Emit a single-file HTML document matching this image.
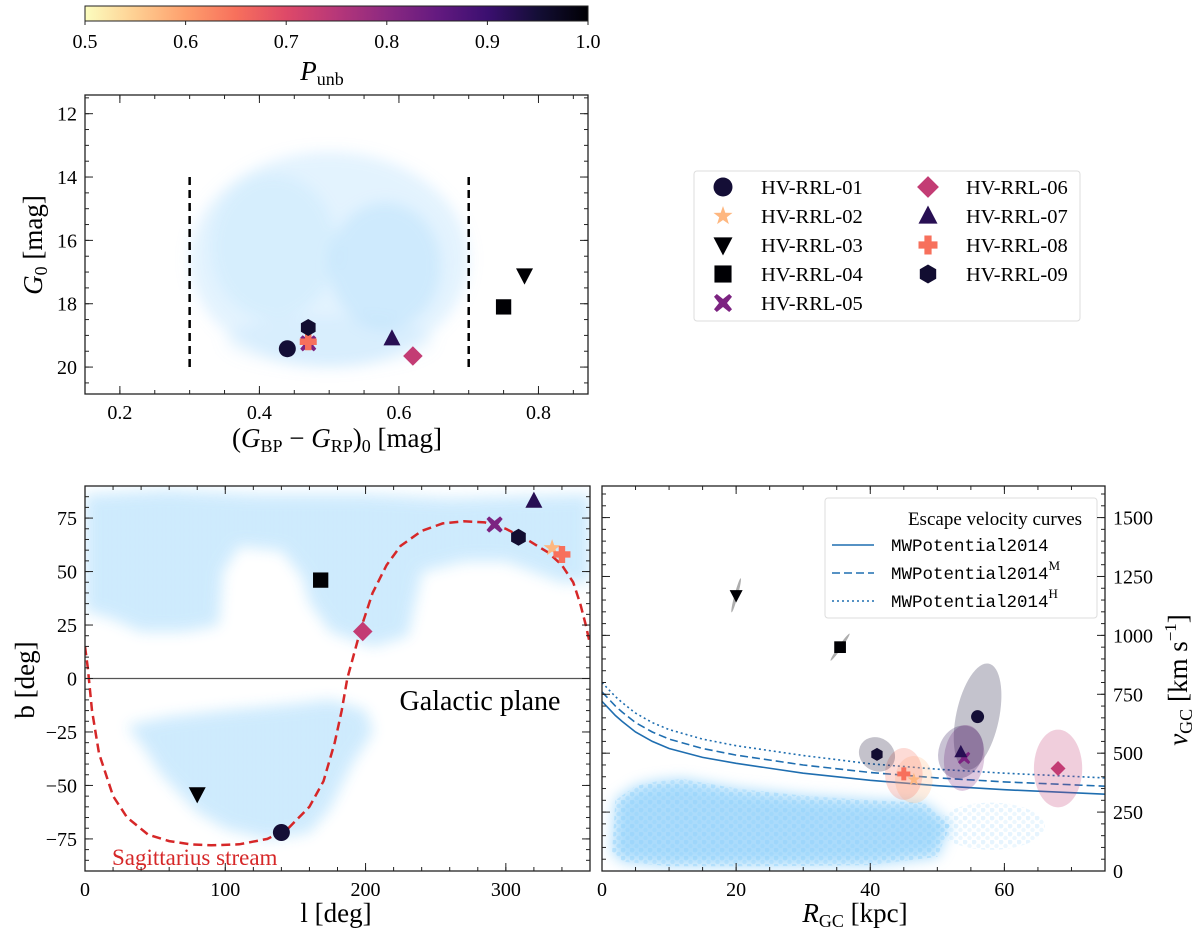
<!DOCTYPE html>
<html><head><meta charset="utf-8">
<style>
html,body{margin:0;padding:0;background:#fff;}
svg{display:block;font-family:"Liberation Serif",serif;}
</style></head>
<body>
<svg id="fig" width="1200" height="938" viewBox="0 0 1200 938" xmlns="http://www.w3.org/2000/svg">
<defs>
<linearGradient id="magmaR" x1="0" x2="1" y1="0" y2="0">
<stop offset="0" stop-color="#fcfdbf"/><stop offset="0.1" stop-color="#fecf92"/><stop offset="0.2" stop-color="#fe9f6d"/><stop offset="0.3" stop-color="#f7705c"/><stop offset="0.4" stop-color="#de4968"/><stop offset="0.5" stop-color="#b73779"/><stop offset="0.6" stop-color="#8c2981"/><stop offset="0.7" stop-color="#641a80"/><stop offset="0.8" stop-color="#3b0f70"/><stop offset="0.9" stop-color="#140e36"/><stop offset="1" stop-color="#000004"/>
</linearGradient>
<filter id="blur" x="-20%" y="-20%" width="140%" height="140%"><feGaussianBlur stdDeviation="7"/></filter>
<pattern id="dots" width="9" height="8" patternUnits="userSpaceOnUse"><circle cx="2" cy="2" r="2.4" fill="#8fd0fa" opacity="0.45"/><circle cx="6.5" cy="6" r="2.2" fill="#8fd0fa" opacity="0.35"/></pattern>
<clipPath id="c1"><rect x="85" y="95" width="503" height="299"/></clipPath>
<clipPath id="c2"><rect x="85" y="486" width="505" height="385"/></clipPath>
<clipPath id="c3"><rect x="602" y="486" width="503" height="385"/></clipPath>
</defs>
</svg>
<script>
// ---------- data ----------
const starNames = ["HV-RRL-01","HV-RRL-02","HV-RRL-03","HV-RRL-04","HV-RRL-05","HV-RRL-06","HV-RRL-07","HV-RRL-08","HV-RRL-09"];
const starMarkers = ["circle","star","tridown","square","x","diamond","triup","plus","hexagon"];
const pUnb = [0.95,0.575,1.0,1.0,0.82,0.735,0.925,0.65,0.955];
const bpRp = [0.44,0.47,0.78,0.75,0.47,0.62,0.59,0.47,0.47];
const g0 = [19.42,19.2,17.1,18.1,19.25,19.65,19.1,19.2,18.75];
const glon = [140,333,80,168,292,198,320,340,309];
const glat = [-72,61,-54,46,72,22,83,58,66];
const rgc = [56,46.5,20,35.5,54,68,53.5,45,41];
const vgc = [655,388,1170,950,480,435,505,412,495];
const errR = [3.2,2.8,0.25,0.25,3.0,3.6,3.3,2.8,2.8];
const errV = [230,100,75,70,140,165,115,110,70];
const errRot = [12,0,15,35,5,0,20,0,35];
const colorCut = [0.3,0.7];
const sgrL = [0,2,5,10,20,30,45,60,75,90,110,130,145,160,170,178,183,187,192,197,205,215,225,240,255,270,285,300,315,330,340,348,353,357,360];
const sgrB = [15,5,-15,-35,-55,-65,-73,-76,-77.5,-78,-77.5,-75,-70,-60,-48,-30,-15,0,12,24,40,53,62,69,72.5,73.5,73,70,65,59,53,45,35,25,16];
const escR = [0,1,2,3,5,7.5,10,15,20,30,40,50,60,75];
const escSolid = [720,690,660,635,590,550,520,482,457,415,385,362,345,326];
const escDashed = [760,730,700,675,630,590,560,520,492,450,418,395,378,360];
const escDotted = [800,770,740,715,670,630,600,560,532,490,455,432,415,395];
const cbTicks = [0.5,0.6,0.7,0.8,0.9,1.0];

const NS="http://www.w3.org/2000/svg";
const svg=document.getElementById('fig');
const TICKFS=20;
function el(tag,attrs,parent){const e=document.createElementNS(NS,tag);for(const k in attrs)e.setAttribute(k,attrs[k]);(parent||svg).appendChild(e);return e;}
function lin(d0,d1,p0,p1){return v=>p0+(v-d0)*(p1-p0)/(d1-d0);}

const magma=[[252,253,191],[254,207,146],[254,159,109],[247,112,92],[222,73,104],[183,55,121],[140,41,129],[100,26,128],[59,15,112],[20,14,54],[0,0,4]];
function pColor(p){let t=(p-0.5)/0.5;t=Math.max(0,Math.min(1,t))*10;const i=Math.min(9,Math.floor(t)),f=t-i;const a=magma[i],b=magma[i+1];return 'rgb('+a.map((v,k)=>Math.round(v+(b[k]-v)*f)).join(',')+')';}

function marker(parent,type,x,y,s,color){
  const r=s/2;let e;
  if(type==="circle") e=el('circle',{cx:x,cy:y,r:r},parent);
  else if(type==="square") e=el('rect',{x:x-r*0.9,y:y-r*0.9,width:r*1.8,height:r*1.8},parent);
  else if(type==="diamond") e=el('polygon',{points:`${x},${y-r*1.15} ${x+r*1.15},${y} ${x},${y+r*1.15} ${x-r*1.15},${y}`},parent);
  else if(type==="triup") e=el('polygon',{points:`${x},${y-r*1.1} ${x+r},${y+r*0.8} ${x-r},${y+r*0.8}`},parent);
  else if(type==="tridown") e=el('polygon',{points:`${x},${y+r*1.1} ${x+r},${y-r*0.8} ${x-r},${y-r*0.8}`},parent);
  else if(type==="hexagon"){let p=[];for(let i=0;i<6;i++){const a=Math.PI/2+i*Math.PI/3;p.push((x+r*Math.cos(a)).toFixed(1)+','+(y-r*Math.sin(a)).toFixed(1));}e=el('polygon',{points:p.join(' ')},parent);}
  else if(type==="star"){let p=[];for(let i=0;i<10;i++){const a=Math.PI/2+i*Math.PI/5;const rr=i%2?r*0.42:r*1.05;p.push((x+rr*Math.cos(a)).toFixed(1)+','+(y-rr*Math.sin(a)).toFixed(1));}e=el('polygon',{points:p.join(' ')},parent);}
  else if(type==="plus"){const w=r*0.38;e=el('polygon',{points:`${x-w},${y-r} ${x+w},${y-r} ${x+w},${y-w} ${x+r},${y-w} ${x+r},${y+w} ${x+w},${y+w} ${x+w},${y+r} ${x-w},${y+r} ${x-w},${y+w} ${x-r},${y+w} ${x-r},${y-w} ${x-w},${y-w}`},parent);}
  else if(type==="x"){const w=r*0.3,o=r*0.95;const pts=[[0,-w*1.4],[o-w,-o],[o,-o+w],[w*1.4,0],[o,o-w],[o-w,o],[0,w*1.4],[-o+w,o],[-o,o-w],[-w*1.4,0],[-o,-o+w],[-o+w,-o]];e=el('polygon',{points:pts.map(q=>(x+q[0]).toFixed(1)+','+(y+q[1]).toFixed(1)).join(' ')},parent);}
  e.setAttribute('fill',color);
  return e;
}

function text(parent,x,y,str,attrs){const t=el('text',Object.assign({x:x,y:y,'font-size':TICKFS,fill:'#000'},attrs||{}),parent);t.textContent=str;return t;}

function axes(name,box,xs,ys,xr,yr,xMaj,xMin,yMaj,yMin,xFmt,yFmt,yRight){
  const g=el('g',{});
  
  
  const [x0,y0,x1,y1]=box;
  function tk(v0,v1,step,len,isX){
    for(let v=Math.ceil(v0/step-1e-9)*step;v<=v1+1e-9;v+=step){
      if(isX){const px=xs(v);el('line',{x1:px,y1:y1,x2:px,y2:y1-len,stroke:'#222','stroke-width':1},g);el('line',{x1:px,y1:y0,x2:px,y2:y0+len,stroke:'#222','stroke-width':1},g);}
      else{const py=ys(v);el('line',{x1:x0,y1:py,x2:x0+len,y2:py,stroke:'#222','stroke-width':1},g);el('line',{x1:x1,y1:py,x2:x1-len,y2:py,stroke:'#222','stroke-width':1},g);}
    }
  }
  tk(xr[0],xr[1],xMin,4,true);tk(xr[0],xr[1],xMaj,8,true);
  tk(yr[0],yr[1],yMin,4,false);tk(yr[0],yr[1],yMaj,8,false);
  for(let v=Math.ceil(xr[0]/xMaj-1e-9)*xMaj;v<=xr[1]+1e-9;v+=xMaj){
    const t=text(g,xs(v),y1+25,xFmt(v),{'text-anchor':'middle'});
    
    
  }
  for(let v=Math.ceil(yr[0]/yMaj-1e-9)*yMaj;v<=yr[1]+1e-9;v+=yMaj){
    const t=yRight?text(g,x1+8,ys(v)+7,yFmt(v),{'text-anchor':'start'}):text(g,x0-8,ys(v)+7,yFmt(v),{'text-anchor':'end'});
    
    
  }
  const fr=el('rect',{x:x0,y:y0,width:x1-x0,height:y1-y0,fill:'none',stroke:'#222','stroke-width':1.3},g);
  
  
  return g;
}
const minus=v=>(v<0?'\u2212':'')+Math.abs(v);

// ---------- colorbar ----------
const cbx=lin(0.5,1.0,85,588);
const cb=el('rect',{x:85,y:6,width:503,height:15,fill:'url(#magmaR)',stroke:'#222','stroke-width':1});


cbTicks.forEach(v=>{el('line',{x1:cbx(v),y1:21,x2:cbx(v),y2:25,stroke:'#222'});const t=text(svg,cbx(v),48,v.toFixed(1),{'text-anchor':'middle'});});
const cbl=el('text',{x:322,y:80,'font-size':27,'font-style':'italic','text-anchor':'middle'});
cbl.innerHTML='P<tspan font-size="18" font-style="normal" dy="5">unb</tspan>';



// ---------- panel 1: CMD ----------
const x1s=lin(0.15,0.871,85,588), y1s=lin(11.41,20.85,95,394);
const p1=el('g',{'clip-path':'url(#c1)'});


const cloud1=el('g',{filter:'url(#blur)'},p1);


[[0.5,16.6,0.2,3.4,0.25],[0.58,16.8,0.08,2.0,0.25],[0.42,16.2,0.09,2.3,0.15],[0.5,19.2,0.15,0.8,0.12]].forEach(e=>{
  el('ellipse',{cx:x1s(e[0]),cy:y1s(e[1]),rx:x1s(e[0]+e[2])-x1s(e[0]),ry:y1s(e[1]+e[3])-y1s(e[1]),fill:'#8fd0fa',opacity:e[4]},cloud1);
});
colorCut.forEach(c=>{const l=el('line',{x1:x1s(c),y1:y1s(14),x2:x1s(c),y2:y1s(20),stroke:'#000','stroke-width':2.5,'stroke-dasharray':'8,5'},p1);});
starNames.forEach((n,i)=>{const m=marker(p1,starMarkers[i],x1s(bpRp[i]),y1s(g0[i]),17,pColor(pUnb[i]));});
axes('cmd',[85,95,588,394],x1s,y1s,[0.15,0.871],[11.41,20.85],0.2,0.05,2,0.5,v=>v.toFixed(1),v=>v.toFixed(0),false);
let t=el('text',{x:337,y:447,'font-size':27,'text-anchor':'middle'});
t.innerHTML='(<tspan font-style="italic">G</tspan><tspan font-size="18" dy="5">BP</tspan><tspan dy="-5"> \u2212 </tspan><tspan font-style="italic">G</tspan><tspan font-size="18" dy="5">RP</tspan><tspan dy="-5">)</tspan><tspan font-size="18" dy="5">0</tspan><tspan dy="-5"> [mag]</tspan>';

t=el('text',{x:0,y:0,'font-size':27,'text-anchor':'middle',transform:'translate(42,245) rotate(-90)'});
t.innerHTML='<tspan font-style="italic">G</tspan><tspan font-size="18" dy="5">0</tspan><tspan dy="-5"> [mag]</tspan>';


// ---------- legend (stars) ----------
const lg=el('g',{});


el('rect',{x:694,y:171,width:386,height:150,rx:3,fill:'#fff',stroke:'#ddd','stroke-width':1},lg);
starNames.forEach((n,i)=>{
  const col=i<5?0:1,row=i<5?i:i-5;
  const mx=col?928:723,ty=187+row*29;
  const e=el('g',{},lg);
  
  
  marker(e,starMarkers[i],mx,ty,19,pColor(pUnb[i]));
  text(e,mx+38,ty+7,n,{'font-size':20.5});
});

// ---------- panel 2: sky ----------
const x2s=lin(0,360,85,590), y2s=lin(90,-90,486,871);
const p2=el('g',{'clip-path':'url(#c2)'});


const cloud2=el('g',{},p2);


const skyRegions=[
 [[0,86],[60,88],[120,86],[200,86],[260,84],[360,86],[360,45],[340,45],[300,55],[270,55],[240,50],[230,20],[205,15],[175,22],[160,36],[155,48],[140,60],[110,62],[98,50],[95,25],[70,22],[40,22],[20,28],[0,32]],
 [[30,-22],[60,-18],[100,-15],[150,-12],[175,-10],[200,-15],[205,-25],[190,-40],[175,-60],[160,-72],[130,-75],[100,-70],[80,-62],[55,-45],[40,-30]]
];
skyRegions.forEach(r=>{const pts=r.map(q=>x2s(q[0]).toFixed(1)+','+y2s(q[1]).toFixed(1)).join(' ');el('polygon',{points:pts,fill:'#8fd0fa',opacity:0.35,filter:'url(#blur)'},cloud2);el('polygon',{points:pts,fill:'url(#dots)',opacity:0.7,filter:'url(#blur)'},cloud2);});
const gp=el('line',{x1:85,y1:y2s(0),x2:590,y2:y2s(0),stroke:'#555','stroke-width':1.2},p2);

const sgr=el('path',{d:'M'+sgrL.map((l,i)=>x2s(l).toFixed(1)+','+y2s(sgrB[i]).toFixed(1)).join(' L'),fill:'none',stroke:'#d62728','stroke-width':2.5,'stroke-dasharray':'9,5'},p2);

starNames.forEach((n,i)=>{const m=marker(p2,starMarkers[i],x2s(glon[i]),y2s(glat[i]),17,pColor(pUnb[i]));});
t=text(svg,480,710,'Galactic plane',{'font-size':28,'text-anchor':'middle'});
t=text(svg,112,865,'Sagittarius stream',{'font-size':23,fill:'#d62728'});
axes('sky',[85,486,590,871],x2s,y2s,[0,360],[-90,90],100,20,25,5,v=>v.toFixed(0),minus,false);
t=el('text',{x:336,y:922,'font-size':27,'text-anchor':'middle'});t.textContent='l [deg]';
t=el('text',{x:0,y:0,'font-size':27,'text-anchor':'middle',transform:'translate(34,680) rotate(-90)'});t.textContent='b [deg]';

// ---------- panel 3: velocity ----------
const x3s=lin(0,75,602,1105), y3s=lin(0,1634,871,486);
const p3=el('g',{'clip-path':'url(#c3)'});


const cloud3=el('g',{},p3);


const velRegion=[[1.5,80],[2,300],[5,360],[8,380],[12,390],[20,350],[30,320],[40,300],[48,290],[52,200],[50,60],[40,25],[25,20],[10,20],[3,40]];
const vpts=velRegion.map(q=>x3s(q[0]).toFixed(1)+','+y3s(q[1]).toFixed(1)).join(' ');
el('polygon',{points:vpts,fill:'#8fd0fa',opacity:0.75,filter:'url(#blur)'},cloud3);
el('polygon',{points:vpts,fill:'url(#dots)'},cloud3);
el('ellipse',{cx:x3s(58),cy:y3s(190),rx:x3s(8)-x3s(0),ry:y3s(0)-y3s(100),fill:'url(#dots)',opacity:0.5},cloud3);
[[escSolid,'none'],[escDashed,'8,4'],[escDotted,'2,3']].forEach((s,k)=>{
  const p=el('path',{d:'M'+escR.map((r,i)=>x3s(r).toFixed(1)+','+y3s(s[0][i]).toFixed(1)).join(' L'),fill:'none',stroke:'#1f6eb0','stroke-width':1.6,'stroke-dasharray':s[1]},p3);
  
  
});
starNames.forEach((n,i)=>{
  const cx=x3s(rgc[i]),cy=y3s(vgc[i]);
  const gray=(i===2||i===3);
  const e=el('ellipse',{cx:cx,cy:cy,rx:x3s(errR[i])-x3s(0),ry:y3s(0)-y3s(errV[i]),fill:gray?'#999':pColor(pUnb[i]),opacity:gray?0.8:0.25,transform:`rotate(${errRot[i]} ${cx} ${cy})`},p3);
  
  
});
starNames.forEach((n,i)=>{const m=marker(p3,starMarkers[i],x3s(rgc[i]),y3s(vgc[i]),13,pColor(pUnb[i]));});
// legend
const lg2=el('g',{});


el('rect',{x:825,y:498,width:272,height:120,rx:3,fill:'#fff','fill-opacity':0.85,stroke:'#ddd'},lg2);
text(lg2,995,525,'Escape velocity curves',{'font-size':19,'text-anchor':'middle'});
[['none',''],['8,4','M'],['2,3','H']].forEach((s,k)=>{
  const yy=545+k*28;
  const e=el('g',{},lg2);
  
  
  el('line',{x1:832,y1:yy,x2:874,y2:yy,stroke:'#1f6eb0','stroke-width':1.6,'stroke-dasharray':s[0]},e);
  const tt=el('text',{x:891,y:yy+6,'font-size':17.5,'font-family':'"Liberation Mono",monospace'},e);
  tt.innerHTML='MWPotential2014'+(s[1]?'<tspan font-family="Liberation Serif,serif" font-size="13" dy="-9">'+s[1]+'</tspan>':'');
});
axes('velocity',[602,486,1105,871],x3s,y3s,[0,75],[0,1634],20,5,250,50,v=>v.toFixed(0),v=>v.toFixed(0),true);
t=el('text',{x:855,y:922,'font-size':27,'text-anchor':'middle'});
t.innerHTML='<tspan font-style="italic">R</tspan><tspan font-size="18" dy="5">GC</tspan><tspan dy="-5"> [kpc]</tspan>';

t=el('text',{x:0,y:0,'font-size':27,'text-anchor':'middle',transform:'translate(1187,680) rotate(-90)'});
t.innerHTML='<tspan font-style="italic">v</tspan><tspan font-size="18" dy="5">GC</tspan><tspan dy="-5"> [km s</tspan><tspan font-size="17" dy="-11">\u22121</tspan><tspan dy="11">]</tspan>';

</script>
</body></html>
